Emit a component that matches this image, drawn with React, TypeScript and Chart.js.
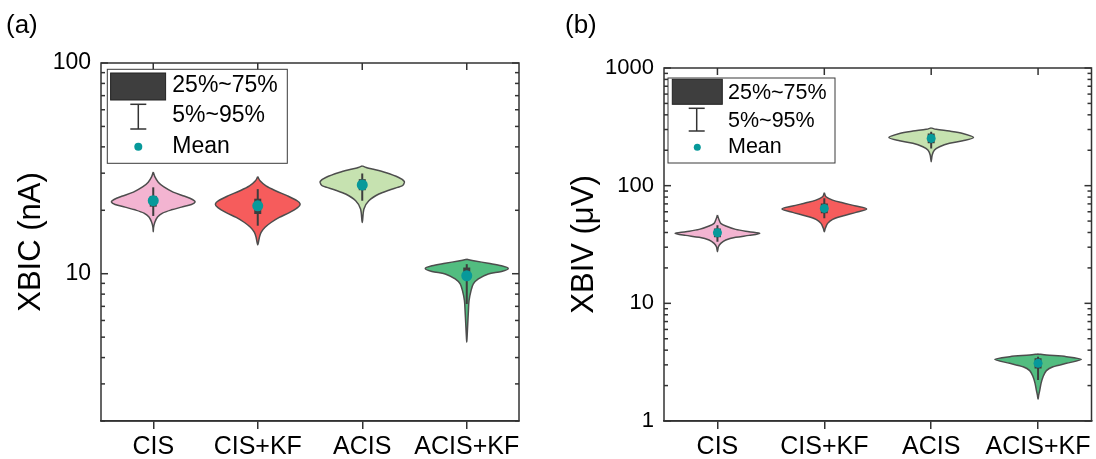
import React, { useEffect, useRef } from "react";
import { Chart, registerables } from "chart.js";

Chart.register(...registerables);

// ---------------- data ----------------
const categories = ["CIS", "CIS+KF", "ACIS", "ACIS+KF"];
const legendLabels = ["25%~75%", "5%~95%", "Mean"];

// Panel (a): XBIC (nA)
const yTicksA = [2, 3, 4, 5, 6, 7, 8, 9, 10, 20, 30, 40, 50, 60, 70, 80, 90, 100];
const yMajorA = [10, 100];

// violin outline: values from top tip to bottom tip, with half-widths (category units)
const aCisValues = [30.4, 28.8, 27.2, 25.8, 24.4, 23.3, 22.5, 21.9, 21.3, 20.7, 20.1, 19.4, 18.6, 17.6, 16.6, 15.8];
const aCisWidths = [0, 0.016, 0.048, 0.102, 0.19, 0.302, 0.375, 0.4, 0.365, 0.27, 0.175, 0.089, 0.041, 0.016, 0.003, 0];
const aCisKfValues = [28.9, 27.6, 26.1, 24.7, 23.4, 22.2, 21.4, 20.6, 19.5, 18.5, 17.5, 16.6, 15.7, 14.9, 13.7];
const aCisKfWidths = [0, 0.022, 0.079, 0.175, 0.286, 0.375, 0.406, 0.381, 0.302, 0.206, 0.127, 0.07, 0.032, 0.016, 0];
const aAcisValues = [32.5, 31.9, 31.4, 30.2, 28.6, 27.4, 26.6, 26.1, 24.9, 23.9, 22.2, 20.3, 17.5];
const aAcisWidths = [0, 0.038, 0.095, 0.222, 0.349, 0.403, 0.397, 0.381, 0.254, 0.159, 0.063, 0.016, 0];
const aAcisKfValues = [11.7, 11.5, 11.2, 10.9, 10.6, 10.25, 9.97, 9.44, 8.94, 8.31, 7.45, 6.68, 5.78, 4.99, 4.73];
const aAcisKfWidths = [0, 0.079, 0.206, 0.333, 0.397, 0.333, 0.206, 0.111, 0.063, 0.041, 0.022, 0.016, 0.0095, 0.003, 0];

const aMean = [22.2, 21.0, 26.4, 9.78];
const aQ1 = [20.8, 19.2, 24.9, 9.47];
const aQ3 = [23.4, 22.7, 28.1, 10.7];
const aP5 = [18.8, 16.9, 22.2, 7.18];
const aP95 = [25.7, 25.2, 29.9, 11.1];

// Panel (b): XBIV (µV)
const yTicksB = [1, 2, 3, 4, 5, 6, 7, 8, 9, 10, 20, 30, 40, 50, 60, 70, 80, 90, 100, 200, 300, 400, 500, 600, 700, 800, 900, 1000];
const yMajorB = [1, 10, 100, 1000];

const bCisValues = [56.3, 51.0, 47.8, 45.4, 42.5, 40.6, 39.3, 37.8, 36.4, 34.5, 32.3, 30.3, 27.4];
const bCisWidths = [0, 0.016, 0.031, 0.078, 0.171, 0.296, 0.396, 0.296, 0.171, 0.078, 0.031, 0.0093, 0];
const bCisKfValues = [87.0, 80.5, 75.4, 71.5, 67.1, 63.3, 59.3, 55.2, 51.7, 47.8, 43.4, 40.6];
const bCisKfWidths = [0, 0.016, 0.078, 0.171, 0.296, 0.396, 0.296, 0.171, 0.078, 0.031, 0.0093, 0];
const bAcisValues = [310, 301, 291, 278, 257, 241, 229, 214, 201, 182, 160];
const bAcisWidths = [0, 0.047, 0.171, 0.296, 0.396, 0.296, 0.171, 0.078, 0.031, 0.0093, 0];
const bAcisKfValues = [3.71, 3.64, 3.52, 3.34, 3.09, 2.89, 2.68, 2.38, 2.09, 1.83, 1.66, 1.53];
const bAcisKfWidths = [0, 0.078, 0.265, 0.405, 0.265, 0.14, 0.078, 0.047, 0.028, 0.016, 0.006, 0];

const bMean = [39.8, 64.1, 252, 3.09];
const bQ1 = [36.4, 58.2, 229, 2.8];
const bQ3 = [43.3, 70.7, 278, 3.41];
const bP5 = [33.4, 52.8, 207, 2.23];
const bP95 = [46.1, 78.0, 287, 3.52];

// ---------------- styles ----------------
const FONT = "Arial, 'Liberation Sans', sans-serif";
const violinColors = ["#f3b4d1", "#f65c5c", "#c6e2b0", "#52bd80"];
const OUTLINE = "#4d4d4d";
const BOX = "#3d3d3d";
const TEAL = "#07999a";
const FRAME = "#333333";

type LegendLayout = {
  dx: number; dy: number; w: number; h: number;
  rx: number; ry: number; rw: number; rh: number;
  barX: number; barTop: number; barBot: number; capHalf: number;
  dotX: number; dotR: number; textX: number; rows: number[]; font: number;
};

type PanelCfg = {
  values: number[][];
  widths: number[][];
  mean: number[]; q1: number[]; q3: number[]; p5: number[]; p95: number[];
  yTicks: number[]; yMajor: number[]; yMin: number; yMax: number;
  yTitle: string; titlePad: number; titleSize: number; yTickSize: number;
  yWidth: number; padRight: number; padTop: number; xHeight: number;
  meanR: number;
  legend: LegendLayout;
};

const panelA: PanelCfg = {
  values: [aCisValues, aCisKfValues, aAcisValues, aAcisKfValues],
  widths: [aCisWidths, aCisKfWidths, aAcisWidths, aAcisKfWidths],
  mean: aMean, q1: aQ1, q3: aQ3, p5: aP5, p95: aP95,
  yTicks: yTicksA, yMajor: yMajorA, yMin: 2, yMax: 100,
  yTitle: "XBIC (nA)", titlePad: 13, titleSize: 31, yTickSize: 23,
  yWidth: 101, padRight: 29, padTop: 63, xHeight: 38,
  meanR: 5.5,
  legend: {
    dx: 6.3, dy: 6.3, w: 180, h: 94,
    rx: 3.3, ry: 3.7, rw: 55, rh: 27,
    barX: 31, barTop: 35, barBot: 59.7, capHalf: 8,
    dotX: 31, dotR: 4, textX: 65, rows: [16.5, 46, 77.5], font: 23,
  },
};

const panelB: PanelCfg = {
  values: [bCisValues, bCisKfValues, bAcisValues, bAcisKfValues],
  widths: [bCisWidths, bCisKfWidths, bAcisWidths, bAcisKfWidths],
  mean: bMean, q1: bQ1, q3: bQ3, p5: bP5, p95: bP95,
  yTicks: yTicksB, yMajor: yMajorB, yMin: 1, yMax: 1000,
  yTitle: "XBIV (\u03BCV)", titlePad: 18, titleSize: 31, yTickSize: 22,
  yWidth: 116, padRight: 3, padTop: 68, xHeight: 38,
  meanR: 4.5,
  legend: {
    dx: 4, dy: 10, w: 167, h: 85,
    rx: 4.3, ry: 1.3, rw: 50, rh: 25,
    barX: 28.7, barTop: 30.3, barBot: 53, capHalf: 8,
    dotX: 29.3, dotR: 3.5, textX: 60, rows: [14.7, 42.7, 69.3], font: 21.5,
  },
};

// ---------------- plugin: frame, inward ticks, legend ----------------
const framePlugin = {
  id: "frameLegend",
  afterDraw(chart: any, _args: any, opts: any) {
    const { ctx, chartArea } = chart;
    const { left, right, top, bottom } = chartArea;
    const xs = chart.scales.x;
    const ys = chart.scales.y;
    ctx.save();
    ctx.strokeStyle = FRAME;
    ctx.lineWidth = 1.5;
    ctx.strokeRect(left, top, right - left, bottom - top);
    const seg = (x1: number, y1: number, x2: number, y2: number) => {
      ctx.beginPath();
      ctx.moveTo(x1, y1);
      ctx.lineTo(x2, y2);
      ctx.stroke();
    };
    ys.ticks.forEach((t: any) => {
      const py = ys.getPixelForValue(t.value);
      const len = t.major ? 7 : 4;
      seg(left, py, left + len, py);
      seg(right, py, right - len, py);
    });
    xs.ticks.forEach((t: any) => {
      const px = xs.getPixelForValue(t.value);
      seg(px, top, px, top + 7);
    });

    // legend
    const L: LegendLayout = opts.layout;
    const bx = left + L.dx;
    const by = top + L.dy;
    ctx.fillStyle = "#ffffff";
    ctx.fillRect(bx, by, L.w, L.h);
    ctx.lineWidth = 1;
    ctx.strokeStyle = "#3a3a3a";
    ctx.strokeRect(bx, by, L.w, L.h);
    ctx.fillStyle = "#3e3e3e";
    ctx.fillRect(bx + L.rx, by + L.ry, L.rw, L.rh);
    ctx.strokeStyle = "#222";
    ctx.strokeRect(bx + L.rx, by + L.ry, L.rw, L.rh);
    ctx.strokeStyle = "#333";
    ctx.lineWidth = 1.5;
    seg(bx + L.barX, by + L.barTop, bx + L.barX, by + L.barBot);
    seg(bx + L.barX - L.capHalf, by + L.barTop, bx + L.barX + L.capHalf, by + L.barTop);
    seg(bx + L.barX - L.capHalf, by + L.barBot, bx + L.barX + L.capHalf, by + L.barBot);
    ctx.fillStyle = TEAL;
    ctx.beginPath();
    ctx.arc(bx + L.dotX, by + L.rows[2], L.dotR, 0, Math.PI * 2);
    ctx.fill();
    ctx.fillStyle = "#000";
    ctx.font = `${L.font}px ${FONT}`;
    ctx.textBaseline = "middle";
    ctx.textAlign = "left";
    legendLabels.forEach((txt, i) => {
      ctx.fillText(txt, bx + L.textX, by + L.rows[i]);
    });
    ctx.restore();
  },
};

function buildConfig(p: PanelCfg): any {
  const datasets: any[] = [];
  // means (top)
  datasets.push({
    type: "line",
    data: p.mean.map((m, i) => ({ x: i, y: m })),
    showLine: false,
    pointRadius: p.meanR,
    pointBackgroundColor: TEAL,
    pointBorderWidth: 0,
    order: 0,
  });
  categories.forEach((_, i) => {
    // box 25-75
    datasets.push({
      type: "line",
      data: [{ x: i, y: p.q1[i] }, { x: i, y: p.q3[i] }],
      borderColor: BOX,
      borderWidth: 7,
      borderCapStyle: "butt",
      pointRadius: 0,
      order: 1,
    });
    // whisker 5-95
    datasets.push({
      type: "line",
      data: [{ x: i, y: p.p5[i] }, { x: i, y: p.p95[i] }],
      borderColor: BOX,
      borderWidth: 2,
      borderCapStyle: "butt",
      pointRadius: 0,
      order: 2,
    });
    // violin outline (closed shape)
    const vals = p.values[i];
    const ws = p.widths[i];
    const pts: { x: number; y: number }[] = [];
    for (let k = 0; k < vals.length; k++) pts.push({ x: i + ws[k], y: vals[k] });
    for (let k = vals.length - 2; k >= 0; k--) pts.push({ x: i - ws[k], y: vals[k] });
    datasets.push({
      type: "line",
      data: pts,
      fill: "shape",
      backgroundColor: violinColors[i],
      borderColor: OUTLINE,
      borderWidth: 1.5,
      borderJoinStyle: "round",
      tension: 0.3,
      pointRadius: 0,
      order: 3,
    });
  });

  return {
    type: "line",
    data: { datasets },
    options: {
      responsive: false,
      animation: false,
      devicePixelRatio: 1,
      events: [],
      layout: { padding: { left: 0, right: p.padRight, top: p.padTop, bottom: 0 } },
      plugins: {
        legend: { display: false },
        tooltip: { enabled: false },
        frameLegend: { layout: p.legend },
      },
      scales: {
        x: {
          type: "linear",
          min: -0.5,
          max: 3.5,
          afterBuildTicks: (s: any) => {
            s.ticks = categories.map((_, i) => ({ value: i }));
          },
          afterFit: (s: any) => {
            s.height = p.xHeight;
          },
          ticks: {
            autoSkip: false,
            maxRotation: 0,
            padding: 3,
            color: "#000",
            font: { family: FONT, size: 25 },
            callback: (v: any) => categories[Math.round(Number(v))] ?? "",
          },
          grid: {
            display: true,
            drawOnChartArea: false,
            drawTicks: true,
            tickLength: 8,
            color: FRAME,
            lineWidth: 1.5,
          },
          border: { display: true, color: FRAME, width: 1.5 },
        },
        y: {
          type: "logarithmic",
          min: p.yMin,
          max: p.yMax,
          afterBuildTicks: (s: any) => {
            s.ticks = p.yTicks.map((v) => ({ value: v, major: p.yMajor.includes(v) }));
          },
          afterFit: (s: any) => {
            s.width = p.yWidth;
          },
          ticks: {
            autoSkip: false,
            padding: 10,
            color: "#000",
            font: { family: FONT, size: p.yTickSize },
            callback: (v: any) => (p.yMajor.includes(Number(v)) ? String(v) : ""),
          },
          grid: { display: false, drawTicks: false },
          border: { display: false },
          title: {
            display: true,
            text: p.yTitle,
            color: "#000",
            font: { family: FONT, size: p.titleSize },
            padding: { top: p.titlePad, bottom: 0 },
          },
        },
      },
    },
    plugins: [framePlugin],
  };
}

function ViolinPanel({ cfg }: { cfg: PanelCfg }) {
  const ref = useRef<HTMLCanvasElement | null>(null);
  useEffect(() => {
    if (!ref.current) return;
    const chart = new Chart(ref.current, buildConfig(cfg));
    return () => chart.destroy();
  }, [cfg]);
  return (
    <canvas
      ref={ref}
      width={548}
      height={459}
      style={{ display: "block", width: 548, height: 459 }}
    />
  );
}

export default function App() {
  const labelStyle: React.CSSProperties = {
    position: "absolute",
    fontFamily: FONT,
    fontSize: 26,
    lineHeight: "26px",
    color: "#000",
  };
  return (
    <div style={{ position: "absolute", left: 0, top: 0, width: 1096, height: 459, background: "#fff", overflow: "hidden" }}>
      <div style={{ position: "absolute", left: 0, top: 0, width: 548, height: 459 }}>
        <ViolinPanel cfg={panelA} />
      </div>
      <div style={{ position: "absolute", left: 548, top: 0, width: 548, height: 459 }}>
        <ViolinPanel cfg={panelB} />
      </div>
      <div style={{ ...labelStyle, left: 6, top: 11 }}>(a)</div>
      <div style={{ ...labelStyle, left: 565, top: 11 }}>(b)</div>
    </div>
  );
}
